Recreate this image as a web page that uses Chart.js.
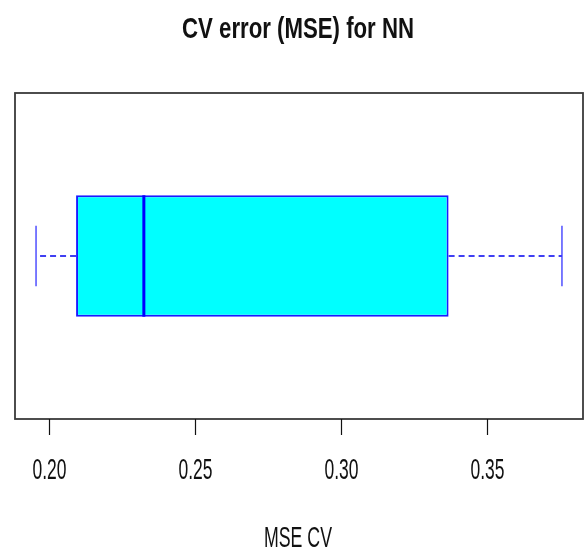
<!DOCTYPE html>
<html>
<head>
<meta charset="utf-8">
<script src="https://cdn.jsdelivr.net/npm/chart.js@4/dist/chart.umd.min.js"></script>
<style>
  html, body { margin: 0; padding: 0; background: #fff; }
  #wrap { width: 588px; height: 548px; }
</style>
</head>
<body>
<div id="wrap"><canvas id="cv" width="588" height="548"></canvas></div>
<script>
// boxplot stats
const categories = ['NN'];
const whiskerLow = [0.1956];
const q1Values = [0.2093];
const medianValues = [0.2325];
const q3Values = [0.3368];
const whiskerHigh = [0.3756];

const tickValues = [0.20, 0.25, 0.30, 0.35];
const tickLabels = ['0.20', '0.25', '0.30', '0.35'];

const titleText = 'CV error (MSE) for NN';
const xLabelText = 'MSE CV';

// R style axis range: data range + 4% each side
const lo = Math.min(...whiskerLow), hi = Math.max(...whiskerHigh);
const pad = (hi - lo) * 0.04;

const FONT = '"Liberation Sans", Arial, sans-serif';

// narrow text like the original (R output squeezed horizontally)
function narrowText(ctx, text, cx, baseline, size, weight, targetW) {
    ctx.save();
    ctx.font = weight + ' ' + size + 'px ' + FONT;
    const w = ctx.measureText(text).width;
    const sx = targetW / w;
    ctx.translate(cx, baseline);
    ctx.scale(sx, 1);
    ctx.fillStyle = '#111';
    ctx.textAlign = 'center';
    ctx.textBaseline = 'alphabetic';
    ctx.fillText(text, 0, 0);
    ctx.restore();
}

const boxPlugin = {
    id: 'boxExtras',
    afterDatasetsDraw(chart) {
        const ctx = chart.ctx;
        const xs = chart.scales.x;
        const meta = chart.getDatasetMeta(0);
        meta.data.forEach((bar, i) => {
            const cy = bar.y;
            const h = bar.height;
            const pLow = xs.getPixelForValue(whiskerLow[i]);
            const pQ1 = xs.getPixelForValue(q1Values[i]);
            const pMed = xs.getPixelForValue(medianValues[i]);
            const pQ3 = xs.getPixelForValue(q3Values[i]);
            const pHigh = xs.getPixelForValue(whiskerHigh[i]);

            ctx.save();
            // whiskers (dashed), drawn from the box outwards like R
            ctx.strokeStyle = '#0000ee';
            ctx.lineWidth = 1.7;
            ctx.setLineDash([6, 4]);
            ctx.beginPath();
            ctx.moveTo(pQ1, cy); ctx.lineTo(pLow, cy);
            ctx.moveTo(pQ3, cy); ctx.lineTo(pHigh, cy);
            ctx.stroke();
            // caps
            ctx.setLineDash([]);
            ctx.strokeStyle = '#3535ff';
            ctx.lineWidth = 1.3;
            ctx.beginPath();
            ctx.moveTo(pLow, cy - h / 4); ctx.lineTo(pLow, cy + h / 4);
            ctx.moveTo(pHigh, cy - h / 4); ctx.lineTo(pHigh, cy + h / 4);
            ctx.stroke();
            // median
            ctx.strokeStyle = '#0000ff';
            ctx.lineWidth = 3;
            ctx.beginPath();
            ctx.moveTo(pMed, cy - h / 2); ctx.lineTo(pMed, cy + h / 2);
            ctx.stroke();
            ctx.restore();
        });
    },
    afterDraw(chart) {
        const ctx = chart.ctx;
        const a = chart.chartArea;
        const xs = chart.scales.x;
        ctx.save();
        // frame
        ctx.strokeStyle = '#3a3a3a';
        ctx.lineWidth = 1.8;
        ctx.strokeRect(a.left, a.top, a.right - a.left, a.bottom - a.top);
        // ticks
        ctx.strokeStyle = '#111';
        ctx.lineWidth = 1.2;
        tickValues.forEach((v, i) => {
            const px = Math.round(xs.getPixelForValue(v)) + 0.5;
            ctx.beginPath();
            ctx.moveTo(px, a.bottom);
            ctx.lineTo(px, a.bottom + 16);
            ctx.stroke();
            narrowText(ctx, tickLabels[i], px, 479, 29, 'normal', 34);
        });
        ctx.restore();
        narrowText(ctx, titleText, 298, 38, 30, 'bold', 232);
        narrowText(ctx, xLabelText, 298, 547, 29, 'normal', 68);
    }
};

new Chart(document.getElementById('cv'), {
    type: 'bar',
    data: {
        labels: categories,
        datasets: [{
            data: categories.map((c, i) => [q1Values[i], q3Values[i]]),
            backgroundColor: '#00ffff',
            borderColor: '#1a1aff',
            borderWidth: 2,
            borderSkipped: false,
            categoryPercentage: 1,
            barPercentage: 0.3725
        }]
    },
    options: {
        indexAxis: 'y',
        responsive: false,
        animation: false,
        devicePixelRatio: 1,
        layout: { padding: { left: 15, right: 5, top: 93, bottom: 129 } },
        plugins: { legend: { display: false }, tooltip: { enabled: false }, title: { display: false } },
        scales: {
            x: { type: 'linear', min: lo - pad, max: hi + pad, display: false },
            y: { type: 'category', display: false }
        }
    },
    plugins: [boxPlugin]
});
</script>
</body>
</html>
